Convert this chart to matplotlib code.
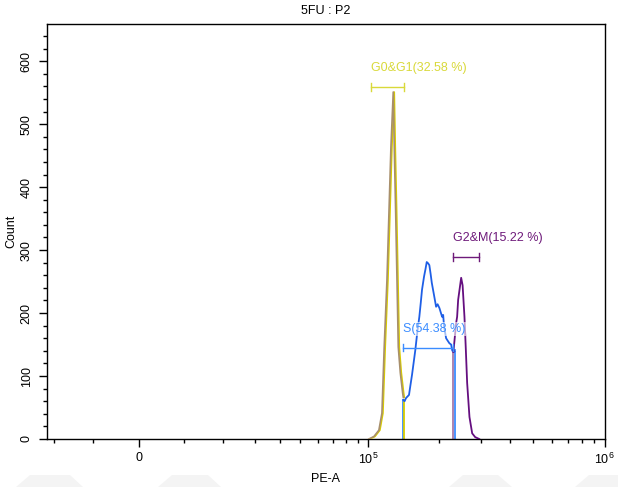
import matplotlib
matplotlib.use("Agg")
import matplotlib.pyplot as plt
from matplotlib.ticker import FixedLocator, NullFormatter
from matplotlib.patches import Polygon
import matplotlib.transforms as mtransforms

plt.rcParams['font.family'] = ['Liberation Sans', 'DejaVu Sans']
plt.rcParams['mathtext.default'] = 'regular'

# ---------------- data ----------------
title = "5FU : P2"
x_label = "PE-A"
y_label = "Count"

# G0/G1 peak (PE-A, count)
g1_x = [100500, 105700, 111000, 114400, 117000, 120200, 122600, 125000, 127900,
        129200, 131000, 132700, 134400, 137100, 140300, 141200]
g1_y = [0, 4, 14, 41, 146, 252, 359, 463, 551,
        463, 359, 252, 146, 105, 73, 66]

# S phase region
s_x = [141200, 143000, 145000, 149300, 151500, 153800, 158800, 162000, 165200, 167500,
       169600, 173000, 175500, 177600, 180000, 182200, 184500, 186600, 190800, 194600,
       197500, 201000, 206400, 208500, 210400, 214600, 218000, 221600, 225300, 228000,
       230400, 232700]
s_y = [62, 60, 65, 70, 86, 102, 141, 170, 194, 216,
       237, 258, 270, 281, 279, 276, 262, 248, 228, 210,
       214, 208, 194, 197, 178, 160, 156, 152, 150, 140,
       141, 139]

# G2/M peak
g2_x = [230400, 236600, 238900, 241300, 248500, 252000, 256600, 260100, 263400,
        269400, 276600, 284800, 292400, 296200]
g2_y = [138, 184, 194, 221, 256, 244, 194, 141, 89,
        35, 9, 3, 1, 0]

# gates: (label, start, end, bracket count, label count)
gate_labels = ["G0&G1(32.58 %)", "S(54.38 %)", "G2&M(15.22 %)"]
gate_start = [102600, 141200, 229800]
gate_end = [142200, 230400, 296200]
gate_bar_y = [559, 145, 289]
gate_text_y = [589, 175, 319]

# gate boundary lines (x, height)
vline_x = [141200, 142600, 229100, 234300]
vline_h = [62, 62, 141, 141]

x_major = [0, 1e5, 1e6]
x_major_labels = ["0", "$10^5$", "$10^6$"]
x_minor = [-2e4, -1e4, 1e4, 2e4, 3e4, 4e4, 5e4, 6e4, 7e4, 8e4, 9e4,
           2e5, 3e5, 4e5, 5e5, 6e5, 7e5, 8e5, 9e5]
y_major = [0, 100, 200, 300, 400, 500, 600]
y_minor = list(range(0, 660, 20))

# ---------------- styling ----------------
YEL = "#d8cc00"
YEL_LBL = "#d9d93a"
TAN = "#a88f6c"
BLUE = "#1f5fe6"
BLUE_LBL = "#3a8cff"
PURP = "#650f80"
PURP_LBL = "#6e1a7a"
MAUVE = "#a77aa8"

fig = plt.figure(figsize=(6.18, 4.87), dpi=100)
ax = fig.add_axes([46.5/618, 1-439/487, (604.5-46.5)/618, (439-24)/487])
ax.set_xscale('asinh', linear_width=21800)
ax.set_xlim(-22200, 1.0e6)
ax.set_ylim(0, 659)

# faint watermark shapes at bottom
for (xa, xb, xc, xd) in [(16, 30, 70, 83), (158, 172, 208, 221), (449, 463, 498, 512), (575, 589, 618, 618)]:
    fig.patches.append(Polygon([(xa/618, 0), (xb/618, 12/487), (xc/618, 12/487), (xd/618, 0)],
                               closed=True, transform=fig.transFigure,
                               facecolor="#f4f4f4", edgecolor="none", zorder=0))

shift = mtransforms.offset_copy(ax.transData, fig=fig, x=1.0, y=0, units='dots')
ax.plot(g1_x, g1_y, color=YEL, lw=1.2, transform=shift, zorder=3)
ax.plot(g1_x, g1_y, color=TAN, lw=1.2, zorder=4)
ax.plot(s_x, s_y, color=BLUE, lw=1.3, zorder=3)
ax.plot(g2_x, g2_y, color=PURP, lw=1.3, zorder=3)

vcols = [BLUE_LBL, YEL, MAUVE, BLUE_LBL]
for x, h, c in zip(vline_x, vline_h, vcols):
    ax.plot([x, x], [0, h], color=c, lw=1.3, zorder=2)

gcols = [YEL_LBL, BLUE_LBL, PURP_LBL]
for lbl, xs, xe, by, ty, c in zip(gate_labels, gate_start, gate_end, gate_bar_y, gate_text_y, gcols):
    ax.plot([xs, xe], [by, by], color=c, lw=1.0, zorder=5)
    for xx in (xs, xe):
        ax.plot([xx, xx], [by - 6, by + 6], color=c, lw=1.0, zorder=5)
    ax.text(xs, ty, lbl, color=c, fontsize=9, ha='left', va='center', zorder=6,
            bbox=dict(facecolor='white', edgecolor='none', alpha=0.6, pad=0.5))

ax.xaxis.set_major_locator(FixedLocator(x_major))
ax.set_xticklabels(x_major_labels)
ax.xaxis.set_minor_locator(FixedLocator(x_minor))
ax.xaxis.set_minor_formatter(NullFormatter())
ax.yaxis.set_major_locator(FixedLocator(y_major))
ax.yaxis.set_minor_locator(FixedLocator(y_minor))
ax.tick_params(axis='both', which='major', direction='out', length=6, width=1, labelsize=9)
ax.tick_params(axis='y', which='major', pad=4)
ax.tick_params(axis='both', which='minor', direction='out', length=3, width=1)
plt.setp(ax.get_yticklabels(), rotation=90, va='center')

for s in ax.spines.values():
    s.set_linewidth(1.0)

ax.set_title(title, fontsize=9, pad=7)
ax.set_xlabel(x_label, fontsize=9, labelpad=4)
ax.set_ylabel(y_label, fontsize=9, labelpad=2)

fig.savefig("out.png", dpi=100)
